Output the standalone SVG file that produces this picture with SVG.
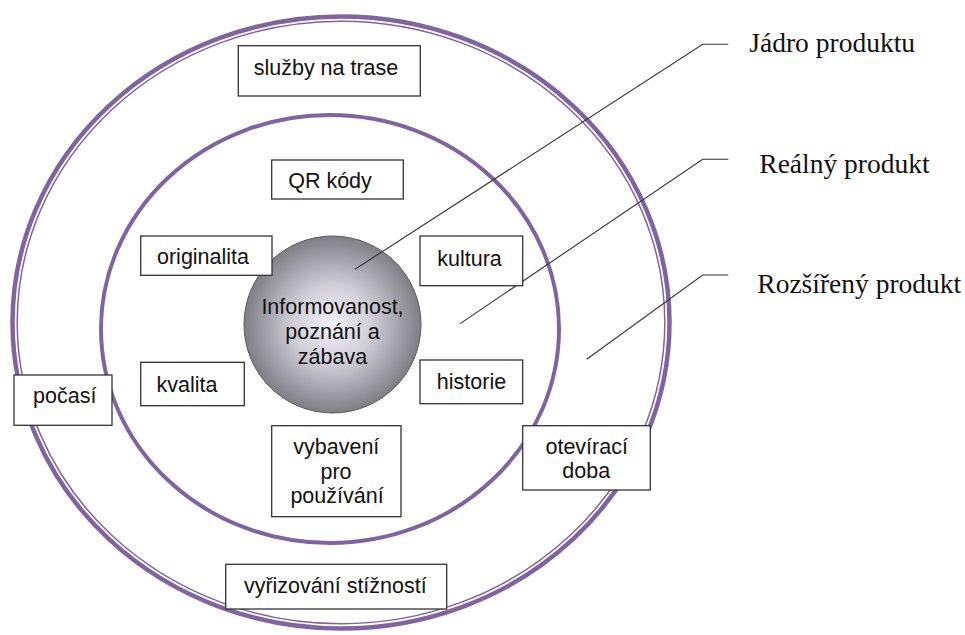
<svg xmlns="http://www.w3.org/2000/svg" width="965" height="635" viewBox="0 0 965 635">
  <style>
    .ring { fill: none; stroke: #8064a2; }
    .box { fill: #ffffff; stroke: #333333; stroke-width: 1.3; }
    .t { font-family: "Liberation Sans", Arial, sans-serif; font-size: 21.5px; fill: #111111; text-anchor: middle; }
    .lab { font-family: "Liberation Serif", "Times New Roman", serif; font-size: 27.5px; fill: #111111; }
    .lead { fill: none; stroke: #333333; stroke-width: 1.1; }
  </style>
  <defs>
    <radialGradient id="coreGrad" cx="50%" cy="50%" r="50%">
      <stop offset="0" stop-color="#f3f1f8"/>
      <stop offset="0.45" stop-color="#cfcdd6"/>
      <stop offset="1" stop-color="#7f7e85"/>
    </radialGradient>
  </defs>
  <rect width="965" height="635" fill="#ffffff"/>

  <g id="ring-outer">
    <ellipse class="ring" cx="341" cy="322.5" rx="328.5" ry="306" stroke-width="4.5"/>
    <ellipse class="ring" cx="341" cy="322.5" rx="323.8" ry="301.3" stroke-width="1.5"/>
  </g>
  <g id="ring-inner">
    <ellipse class="ring" cx="330" cy="329" rx="229" ry="214" stroke-width="4"/>
  </g>

  <g id="core">
    <circle cx="332.5" cy="324.5" r="88.5" fill="url(#coreGrad)" stroke="#5a5a60" stroke-width="1"/>
    <text class="t" x="332.5" y="314">Informovanost,</text>
    <text class="t" x="332.5" y="339">poznání a</text>
    <text class="t" x="332.5" y="363.5">zábava</text>
  </g>

  <g id="connectors">
    <polyline class="lead" points="355,269.3 702.7,44.3 728.3,44.3"/>
    <polyline class="lead" points="459.8,323.9 702.7,159.3 728.3,159.3"/>
    <polyline class="lead" points="586.7,359.3 702.7,275 728.3,275"/>
  </g>

  <g id="node-sluzby">
    <rect class="box" x="238.3" y="45.7" width="182" height="50.3"/>
    <text class="t" x="326" y="75">služby na trase</text>
  </g>
  <g id="node-qr">
    <rect class="box" x="271.7" y="160" width="131.6" height="39"/>
    <text class="t" x="330" y="187.5">QR kódy</text>
  </g>
  <g id="node-originalita">
    <rect class="box" x="140.7" y="236" width="131.3" height="39.3"/>
    <text class="t" x="203" y="264">originalita</text>
  </g>
  <g id="node-kultura">
    <rect class="box" x="420" y="236" width="102.7" height="49.7"/>
    <text class="t" x="469.5" y="265.5">kultura</text>
  </g>
  <g id="node-kvalita">
    <rect class="box" x="140.7" y="362.3" width="103.6" height="43.4"/>
    <text class="t" x="187" y="391.5">kvalita</text>
  </g>
  <g id="node-historie">
    <rect class="box" x="420" y="360" width="102.7" height="43.7"/>
    <text class="t" x="471.5" y="389">historie</text>
  </g>
  <g id="node-pocasi">
    <rect class="box" x="14" y="375" width="98" height="50.3"/>
    <text class="t" x="64.7" y="403.3">počasí</text>
  </g>
  <g id="node-vybaveni">
    <rect class="box" x="271.7" y="425.7" width="129.3" height="91"/>
    <text class="t" x="336.3" y="454.3">vybavení</text>
    <text class="t" x="336" y="478.8">pro</text>
    <text class="t" x="337" y="502.7">používání</text>
  </g>
  <g id="node-oteviraci">
    <rect class="box" x="522.7" y="425.7" width="127.6" height="64.3"/>
    <text class="t" x="586.7" y="454.3">otevírací</text>
    <text class="t" x="586.2" y="478.3">doba</text>
  </g>
  <g id="node-vyrizovani">
    <rect class="box" x="225.7" y="564.3" width="221" height="44.7"/>
    <text class="t" x="335.3" y="593.3">vyřizování stížností</text>
  </g>

  <g id="label-jadro">
    <text class="lab" x="749.3" y="51.7">Jádro produktu</text>
  </g>
  <g id="label-realny">
    <text class="lab" x="759.3" y="172.7">Reálný produkt</text>
  </g>
  <g id="label-rozsireny">
    <text class="lab" x="757.3" y="293.3">Rozšířený produkt</text>
  </g>
</svg>
